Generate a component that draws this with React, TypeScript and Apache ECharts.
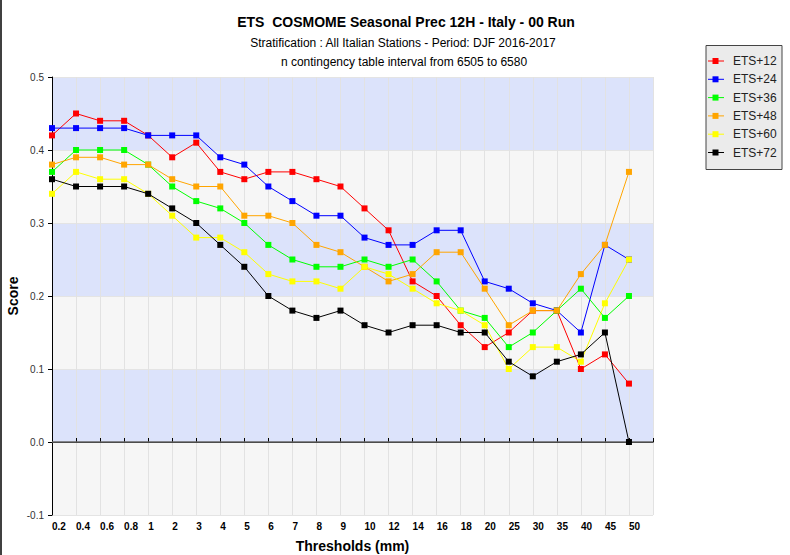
import React, { useEffect, useRef } from "react";
import * as echarts from "echarts";

const thresholds = ["0.2","0.4","0.6","0.8","1","2","3","4","5","6","7","8","9","10","12","14","16","18","20","25","30","35","40","45","50"];
const ets12 = [0.42,0.45,0.44,0.44,0.42,0.39,0.41,0.37,0.36,0.37,0.37,0.36,0.35,0.32,0.29,0.22,0.20,0.16,0.13,0.15,0.18,0.18,0.10,0.12,0.08];
const ets24 = [0.43,0.43,0.43,0.43,0.42,0.42,0.42,0.39,0.38,0.35,0.33,0.31,0.31,0.28,0.27,0.27,0.29,0.29,0.22,0.21,0.19,0.18,0.15,0.27,0.25];
const ets36 = [0.37,0.40,0.40,0.40,0.38,0.35,0.33,0.32,0.30,0.27,0.25,0.24,0.24,0.25,0.24,0.25,0.22,0.18,0.17,0.13,0.15,0.18,0.21,0.17,0.20];
const ets48 = [0.38,0.39,0.39,0.38,0.38,0.36,0.35,0.35,0.31,0.31,0.30,0.27,0.26,0.24,0.22,0.23,0.26,0.26,0.21,0.16,0.18,0.18,0.23,0.27,0.37];
const ets60 = [0.34,0.37,0.36,0.36,0.34,0.31,0.28,0.28,0.26,0.23,0.22,0.22,0.21,0.24,0.23,0.21,0.19,0.18,0.16,0.10,0.13,0.13,0.11,0.19,0.25];
const ets72 = [0.36,0.35,0.35,0.35,0.34,0.32,0.30,0.27,0.24,0.20,0.18,0.17,0.18,0.16,0.15,0.16,0.16,0.15,0.15,0.11,0.09,0.11,0.12,0.15,0.00];

const seriesNames = ["ETS+12","ETS+24","ETS+36","ETS+48","ETS+60","ETS+72"];
const seriesData = [ets12, ets24, ets36, ets48, ets60, ets72];
const seriesColors = ["#ff0000","#0000ff","#00ff00","#ffa500","#ffff00","#000000"];

const titleText = "ETS  COSMOME Seasonal Prec 12H - Italy - 00 Run";
const subtitle1 = "Stratification : All Italian Stations - Period: DJF 2016-2017";
const subtitle2 = "n contingency table interval from 6505 to 6580";

const FONT = "'Liberation Sans', Arial, sans-serif";

export default function App() {
  const ref = useRef<HTMLDivElement>(null);
  useEffect(() => {
    if (!ref.current) return;
    const chart = echarts.init(ref.current, null, { renderer: "svg" });
    const cats = [...thresholds, ""];
    const legendItems: any[] = [];
    seriesNames.forEach((n, i) => {
      const y = 61 + i * 18.3;
      legendItems.push(
        { type: "line", shape: { x1: 708, y1: y, x2: 724, y2: y }, style: { stroke: seriesColors[i], lineWidth: 1 } },
        { type: "rect", shape: { x: 712.5, y: y - 3, width: 6, height: 6 }, style: { fill: seriesColors[i] } },
        { type: "text", x: 733, y: y, style: { text: n, font: `12px ${FONT}`, fill: "#222", textVerticalAlign: "middle" } }
      );
    });
    chart.setOption({
      animation: false,
      backgroundColor: "#ffffff",
      textStyle: { fontFamily: FONT },
      grid: { left: 52, top: 77, width: 601, height: 438, containLabel: false, outerBoundsMode: "none" },
      xAxis: {
        type: "category",
        data: cats,
        boundaryGap: false,
        name: "Thresholds (mm)",
        nameLocation: "middle",
        nameGap: 24,
        nameMoveOverlap: false,
        nameTextStyle: { fontWeight: "bold", fontSize: 14, color: "#000", fontFamily: FONT },
        axisLine: { lineStyle: { color: "#000", width: 1 } },
        axisTick: { show: true, inside: true, length: 4, interval: 0, lineStyle: { color: "#000" } },
        axisLabel: { interval: 0, align: "left", fontSize: 10, fontWeight: "bold", color: "#000", margin: 6, fontFamily: FONT },
        splitLine: { show: true, interval: 0, lineStyle: { color: "#e2e2e2", width: 1 } },
      },
      yAxis: {
        type: "value",
        min: -0.1,
        max: 0.5,
        interval: 0.1,
        name: "Score",
        nameLocation: "middle",
        nameGap: 32,
        nameMoveOverlap: false,
        nameRotate: 90,
        nameTextStyle: { fontWeight: "bold", fontSize: 14, color: "#000", fontFamily: FONT },
        axisLine: { show: true, lineStyle: { color: "#000", width: 1 } },
        axisTick: { show: true, length: 4, lineStyle: { color: "#000" } },
        axisLabel: { fontSize: 10, color: "#333", margin: 8, fontFamily: FONT, formatter: (v: number) => v.toFixed(1) },
        splitLine: { show: true, lineStyle: { color: "#e4e4e4", width: 1 } },
        splitArea: { show: true, areaStyle: { color: ["#f6f6f6", "#dce3fb"] } },
      },
      series: seriesNames.map((n, i) => ({
        name: n,
        type: "line",
        data: seriesData[i],
        symbol: "rect",
        symbolSize: 6,
        showSymbol: true,
        itemStyle: { color: seriesColors[i] },
        lineStyle: { color: seriesColors[i], width: 1 },
        z: 3 + i,
        markLine: i === 0 ? {
          silent: true,
          symbol: "none",
          label: { show: false },
          lineStyle: { color: "#666", width: 1.5, type: "solid" },
          data: [{ yAxis: 0 }],
          z: 2,
        } : undefined,
      })),
      graphic: [
        { type: "line", shape: { x1: 1, y1: 0, x2: 1, y2: 555 }, style: { stroke: "#000", lineWidth: 1.5 } },
        { type: "text", x: 406, y: 22, style: { text: titleText, font: `bold 14px ${FONT}`, fill: "#000", textAlign: "center", textVerticalAlign: "middle" } },
        { type: "text", x: 403, y: 43, style: { text: subtitle1, font: `12px ${FONT}`, fill: "#000", textAlign: "center", textVerticalAlign: "middle" } },
        { type: "text", x: 404, y: 62, style: { text: subtitle2, font: `12px ${FONT}`, fill: "#000", textAlign: "center", textVerticalAlign: "middle" } },
        { type: "rect", shape: { x: 706, y: 45.5, width: 76, height: 124 }, style: { fill: "#ebebeb", stroke: "#444", lineWidth: 1 } },
        ...legendItems,
      ],
    });
    return () => chart.dispose();
  }, []);
  return <div ref={ref} style={{ position: "fixed", left: 0, top: 0, width: 790, height: 555 }} />;
}
